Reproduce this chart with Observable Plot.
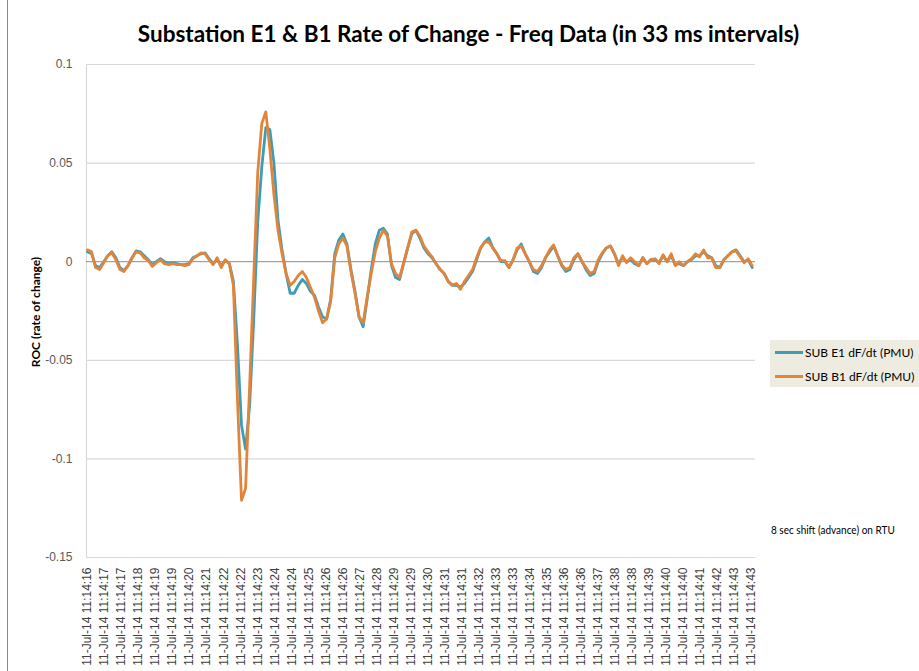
<!DOCTYPE html>
<html><head><meta charset="utf-8">
<script src="https://cdn.jsdelivr.net/npm/d3@7"></script>
<script src="https://cdn.jsdelivr.net/npm/@observablehq/plot@0.6"></script>
<style>
body{margin:0;background:#fff;}
#wrap{position:relative;width:919px;height:671px;overflow:hidden;background:#fff;}
#wrap .border{position:absolute;left:7px;top:0;width:1px;height:671px;background:#8a8a8a;}
#title{position:absolute;left:0;width:937px;top:20px;text-align:center;font:bold 22.5px Lato, "Open Sans", sans-serif;color:#000;white-space:nowrap;}
#ytitle{position:absolute;left:35px;top:312px;transform:translate(-50%,-50%) rotate(-90deg);font:bold 12px Lato, sans-serif;white-space:nowrap;color:#000;}
#legend{position:absolute;left:770px;top:340px;width:160px;height:47px;background:#eeece1;font:12px Lato, sans-serif;color:#000;}
#legend .row{position:absolute;left:5px;height:16px;display:flex;align-items:center;white-space:nowrap;}
#legend .sw{width:28px;height:3px;margin-right:2px;}
#note{position:absolute;left:771px;top:523px;font:10px Lato, sans-serif;color:#000;white-space:nowrap;transform:scaleY(1.12);transform-origin:left top;}
#chart{position:absolute;left:0;top:0;}
</style></head><body>
<div id="wrap">
<div class="border"></div>
<div id="chart"></div>
<div id="title"></div>
<div id="ytitle"></div>
<div id="legend"></div>
<div id="note"></div>
</div>
<script>
const titleText = "Substation E1 & B1 Rate of Change - Freq Data (in 33 ms intervals)";
const yTitle = "ROC (rate of change)";
const noteText = "8 sec shift (advance) on RTU";
const seriesNames = ["SUB E1 dF/dt (PMU)", "SUB B1 dF/dt (PMU)"];
const seriesColors = ["#3d9db9", "#e2853b"];

// one stored reading every 5 samples (33 ms per sample)
const sampleStep = 5;
const e1 = [
 0.005, 0.004, -0.002, -0.003, 0.000, 0.003, 0.005, 0.002, -0.003, -0.0045,
 -0.002, 0.002, 0.0055, 0.005, 0.003, 0.001, -0.0015, 0.000, 0.0015, 0.000,
 -0.001, -0.0005, -0.001, -0.0015, -0.0015, -0.001, 0.002, 0.003, 0.004, 0.0045,
 0.0015, -0.001, 0.001, -0.002, 0.0005, -0.001, -0.010, -0.042, -0.083, -0.095,
 -0.073, -0.030, 0.020, 0.048, 0.068, 0.067, 0.050, 0.021, 0.006, -0.006,
 -0.016, -0.016, -0.012, -0.009, -0.011, -0.015, -0.017, -0.023, -0.028, -0.029,
 -0.019, 0.004, 0.011, 0.014, 0.009, -0.004, -0.015, -0.028, -0.033, -0.019,
 -0.004, 0.009, 0.016, 0.017, 0.014, -0.002, -0.008, -0.009, -0.001, 0.007,
 0.014, 0.016, 0.012, 0.007, 0.004, 0.002, -0.001, -0.004, -0.006, -0.010,
 -0.012, -0.012, -0.013, -0.011, -0.008, -0.005, 0.001, 0.007, 0.010, 0.012,
 0.007, 0.004, 0.000, 0.000, -0.003, 0.001, 0.006, 0.009, 0.004, 0.000,
 -0.005, -0.006, -0.003, 0.002, 0.005, 0.008, 0.003, -0.002, -0.005, -0.004,
 0.001, 0.004, 0.000, -0.004, -0.007, -0.006, 0.000, 0.004, 0.007, 0.008,
 0.004, -0.001, 0.002, 0.000, 0.001, -0.001, -0.002, 0.002, -0.001, 0.001,
 0.001, -0.0005, 0.003, 0.000, 0.003, -0.0015, -0.001, -0.002, 0.000, 0.001,
 0.003, 0.003, 0.005, 0.003, 0.002, -0.002, -0.003, 0.001, 0.003, 0.005,
 0.006, 0.003, 0.000, 0.001, -0.003
];
const b1 = [
 0.006, 0.005, -0.003, -0.004, -0.0005, 0.003, 0.0045, 0.001, -0.004, -0.005,
 -0.002, 0.002, 0.005, 0.0045, 0.002, 0.0005, -0.0024, -0.0005, 0.001, -0.001,
 -0.0015, -0.001, -0.0015, -0.0015, -0.002, -0.0015, 0.0015, 0.003, 0.0045, 0.004,
 0.001, -0.0015, 0.002, -0.003, 0.001, -0.001, -0.012, -0.070, -0.121, -0.115,
 -0.063, -0.009, 0.045, 0.070, 0.076, 0.057, 0.034, 0.016, 0.004, -0.006,
 -0.012, -0.010, -0.007, -0.005, -0.008, -0.013, -0.018, -0.025, -0.031, -0.029,
 -0.020, 0.002, 0.009, 0.012, 0.008, -0.005, -0.016, -0.028, -0.031, -0.018,
 -0.006, 0.005, 0.012, 0.016, 0.013, -0.001, -0.006, -0.008, -0.0005, 0.007,
 0.015, 0.016, 0.013, 0.008, 0.005, 0.0025, -0.001, -0.004, -0.006, -0.010,
 -0.012, -0.011, -0.014, -0.010, -0.007, -0.004, 0.002, 0.007, 0.010, 0.010,
 0.007, 0.004, 0.0005, 0.0005, -0.003, 0.001, 0.007, 0.008, 0.004, 0.000,
 -0.004, -0.005, -0.002, 0.002, 0.006, 0.0085, 0.003, -0.0015, -0.004, -0.003,
 0.002, 0.004, 0.000, -0.003, -0.006, -0.005, 0.001, 0.0045, 0.007, 0.008,
 0.004, -0.002, 0.003, -0.0005, 0.002, 0.000, -0.002, 0.002, -0.001, 0.001,
 0.0015, -0.001, 0.0035, 0.000, 0.004, -0.002, 0.000, -0.002, 0.000, 0.0015,
 0.004, 0.0025, 0.006, 0.002, 0.002, -0.003, -0.003, 0.001, 0.003, 0.005,
 0.0055, 0.0025, -0.0005, 0.0015, -0.002
];

// category labels shown every 21 samples
const tickEvery = 21;
const tickLabels = [
 "11-Jul-14 11:14:16","11-Jul-14 11:14:17","11-Jul-14 11:14:17","11-Jul-14 11:14:18",
 "11-Jul-14 11:14:19","11-Jul-14 11:14:19","11-Jul-14 11:14:20","11-Jul-14 11:14:21",
 "11-Jul-14 11:14:22","11-Jul-14 11:14:22","11-Jul-14 11:14:23","11-Jul-14 11:14:24",
 "11-Jul-14 11:14:24","11-Jul-14 11:14:25","11-Jul-14 11:14:26","11-Jul-14 11:14:26",
 "11-Jul-14 11:14:27","11-Jul-14 11:14:28","11-Jul-14 11:14:29","11-Jul-14 11:14:29",
 "11-Jul-14 11:14:30","11-Jul-14 11:14:31","11-Jul-14 11:14:31","11-Jul-14 11:14:32",
 "11-Jul-14 11:14:33","11-Jul-14 11:14:33","11-Jul-14 11:14:34","11-Jul-14 11:14:35",
 "11-Jul-14 11:14:36","11-Jul-14 11:14:36","11-Jul-14 11:14:37","11-Jul-14 11:14:38",
 "11-Jul-14 11:14:38","11-Jul-14 11:14:39","11-Jul-14 11:14:40","11-Jul-14 11:14:40",
 "11-Jul-14 11:14:41","11-Jul-14 11:14:42","11-Jul-14 11:14:43","11-Jul-14 11:14:43"
];
const totalSamples = 825;
const yTicks = [0.1, 0.05, 0, -0.05, -0.1, -0.15];

const data = e1.map((v, k) => ({i: k * sampleStep, e1: v, b1: b1[k]}));
const tickPos = tickLabels.map((_, j) => j * tickEvery);
const xDomain = [-1.2, totalSamples - 1];

const chart = Plot.plot({
  width: 919, height: 671,
  marginLeft: 86, marginRight: 164, marginTop: 64, marginBottom: 114,
  style: {fontFamily: "'Liberation Sans', Arial, sans-serif", fontSize: "12px", color: "#595959", background: "transparent"},
  x: {type: "linear", domain: xDomain, axis: null},
  y: {domain: [yTicks[yTicks.length - 1], yTicks[0]], axis: null},
  marks: [
    Plot.ruleY(yTicks.filter(d => d !== 0), {stroke: "#d9d9d9", strokeWidth: 1.2}),
    Plot.ruleX([xDomain[0]], {stroke: "#d9d9d9", strokeWidth: 1.2}),
    Plot.ruleY([0], {stroke: "#8c8c8c", strokeWidth: 1}),
    Plot.lineY(data, {x: "i", y: "e1", stroke: seriesColors[0], strokeWidth: 2.8, strokeLinejoin: "round"}),
    Plot.lineY(data, {x: "i", y: "b1", stroke: seriesColors[1], strokeWidth: 2.8, strokeLinejoin: "round"}),
    Plot.axisY({ticks: yTicks, tickFormat: d => String(d), tickSize: 0, tickPadding: 14, label: null, fill: "#595959"}),
    Plot.axisX({ticks: tickPos, tickFormat: d => tickLabels[Math.round(d / tickEvery)], tickRotate: -90, tickSize: 0, tickPadding: 10, label: null, fill: "#404040"})
  ]
});
document.getElementById("chart").appendChild(chart);
document.getElementById("title").textContent = titleText;
document.getElementById("ytitle").textContent = yTitle;
document.getElementById("note").textContent = noteText;
const leg = document.getElementById("legend");
seriesNames.forEach((n, idx) => {
  const row = document.createElement("div");
  row.className = "row";
  row.style.top = (4 + idx * 24) + "px";
  const sw = document.createElement("span");
  sw.className = "sw";
  sw.style.background = seriesColors[idx];
  const t = document.createElement("span");
  t.textContent = n;
  row.appendChild(sw); row.appendChild(t);
  leg.appendChild(row);
});
</script>
</body></html>
